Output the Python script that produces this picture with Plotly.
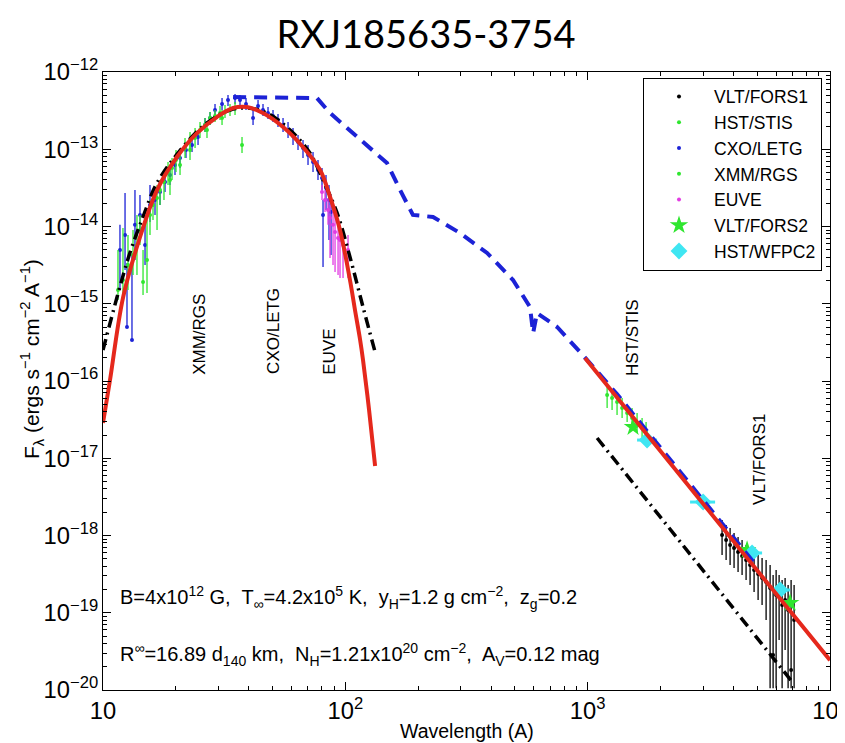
import plotly.graph_objects as go

# ---------------- data (wavelength in Angstrom, flux in erg s^-1 cm^-2 A^-1) ----------------
# XMM/RGS
xmm_wl = [11.53, 12.09, 12.68, 13.30, 13.81, 14.21, 14.63, 15.19, 15.63, 16.08, 16.71, 17.19, 17.85,
          18.55, 19.27, 20.01, 20.79, 21.80, 22.86, 23.98, 25.14, 26.36, 27.65, 28.99, 30.40, 31.87,
          33.43, 35.06, 37.47, 18.90, 22.86, 26.86, 30.99]
xmm_f = [1.51e-15, 2.03e-15, 3.17e-15, 4.28e-15, 5.76e-15, 9.01e-15, 1.91e-15, 3.68e-15, 1.41e-14,
         1.90e-14, 2.34e-14, 2.97e-14, 3.77e-14, 5.08e-14, 5.72e-14, 7.26e-14, 6.25e-14, 1.04e-13,
         1.32e-13, 1.40e-13, 1.77e-13, 2.06e-13, 2.54e-13, 2.69e-13, 2.95e-13, 3.03e-13, 3.22e-13,
         3.42e-13, 1.135e-13, 4.00e-14, 9.78e-14, 1.77e-13, 2.54e-13]
xmm_hi = [4.96e-15, 9.56e-15, 7.76e-15, 9.01e-15, 1.41e-14, 1.41e-14, 4.96e-15, 1.21e-14, 2.20e-14,
          2.97e-14, 3.44e-14, 4.00e-14, 5.08e-14, 6.84e-14, 7.70e-14, 9.78e-14, 8.42e-14, 1.40e-13,
          1.67e-13, 1.88e-13, 2.25e-13, 2.54e-13, 3.03e-13, 3.22e-13, 3.63e-13, 3.74e-13, 3.85e-13,
          4.09e-13, 1.44e-13, 5.39e-14, 1.32e-13, 2.25e-13, 3.22e-13]
xmm_lo = [1.12e-15, 1.12e-15, 1.51e-15, 2.36e-15, 2.36e-15, 5.76e-15, 1.30e-15, 1.38e-15, 7.76e-15,
          1.21e-14, 9.01e-15, 1.90e-14, 2.20e-14, 3.44e-14, 4.00e-14, 5.08e-14, 4.64e-14, 7.70e-14,
          9.78e-14, 1.04e-13, 1.40e-13, 1.67e-13, 2.06e-13, 2.25e-13, 2.39e-13, 2.54e-13, 2.69e-13,
          2.78e-13, 8.94e-14, 2.56e-14, 7.26e-14, 1.40e-13, 2.06e-13]

# CXO/LETG
letg_wl = [11.75, 12.33, 12.56, 13.17, 13.55, 14.21, 14.91, 15.63, 16.39, 17.19, 18.03, 18.90, 19.82,
           20.79, 22.00, 23.30, 24.67, 26.36, 27.65, 28.99, 30.99, 32.80, 35.06, 36.76, 38.92, 41.61,
           43.63, 45.74, 47.97, 50.30, 52.74, 55.33, 58.02, 60.83, 63.79, 66.88, 70.15, 73.56, 77.13,
           80.12, 83.22, 85.63, 80.90, 87.29]
letg_f = [4.96e-15, 7.76e-15, 5.00e-16, 3.39e-16, 1.05e-14, 1.41e-14, 5.76e-15, 1.90e-14, 2.20e-14,
          2.80e-14, 3.77e-14, 4.64e-14, 6.25e-14, 7.70e-14, 9.78e-14, 1.135e-13, 1.44e-13, 2.06e-13,
          2.54e-13, 3.22e-13, 3.85e-13, 4.34e-13, 4.61e-13, 4.34e-13, 3.85e-13, 2.54e-13, 3.63e-13,
          3.22e-13, 2.95e-13, 2.69e-13, 2.39e-13, 2.06e-13, 1.77e-13, 1.48e-13, 1.24e-13, 1.04e-13,
          8.42e-14, 6.84e-14, 5.39e-14, 4.24e-14, 3.15e-14, 2.20e-14, 1.41e-14, 1.54e-14]
letg_hi = [1.05e-14, 2.71e-14, 3.37e-15, 4.28e-15, 2.97e-14, 2.56e-14, 1.41e-14, 3.44e-14, 3.15e-14,
           4.00e-14, 5.08e-14, 6.25e-14, 7.70e-14, 9.78e-14, 1.24e-13, 1.40e-13, 1.77e-13, 2.54e-13,
           3.03e-13, 3.85e-13, 4.61e-13, 5.04e-13, 5.19e-13, 5.04e-13, 4.61e-13, 3.42e-13, 4.34e-13,
           3.85e-13, 3.52e-13, 3.22e-13, 2.86e-13, 2.54e-13, 2.25e-13, 1.88e-13, 1.53e-13, 1.32e-13,
           1.135e-13, 9.22e-14, 7.26e-14, 5.72e-14, 4.64e-14, 3.44e-14, 2.20e-14, 2.56e-14]
letg_lo = [1.51e-15, 2.73e-15, 5.00e-16, 3.39e-16, 3.68e-15, 6.69e-15, 3.17e-15, 1.14e-14, 1.41e-14,
           1.90e-14, 2.80e-14, 3.44e-14, 4.64e-14, 5.72e-14, 7.70e-14, 9.22e-14, 1.135e-13, 1.67e-13,
           2.06e-13, 2.69e-13, 3.22e-13, 3.63e-13, 3.85e-13, 3.63e-13, 3.22e-13, 2.06e-13, 3.03e-13,
           2.69e-13, 2.46e-13, 2.25e-13, 1.94e-13, 1.67e-13, 1.40e-13, 1.135e-13, 9.78e-14, 7.70e-14,
           6.25e-14, 5.08e-14, 4.00e-14, 2.97e-14, 1.64e-14, 6.69e-15, 2.99e-15, 4.28e-15]

# EUVE
euve_wl = [80.12, 82.44, 84.83, 86.46, 88.96, 90.69, 93.31, 95.08, 97.84, 102.6]
euve_f = [2.80e-14, 2.20e-14, 1.64e-14, 1.29e-14, 1.05e-14, 8.49e-15, 7.10e-15, 6.69e-15, 5.76e-15, 4.96e-15]
euve_hi = [3.44e-14, 2.97e-14, 2.34e-14, 1.90e-14, 1.64e-14, 1.41e-14, 1.21e-14, 1.05e-14, 9.01e-15, 7.76e-15]
euve_lo = [2.20e-14, 1.54e-14, 1.05e-14, 3.91e-15, 3.17e-15, 2.58e-15, 2.36e-15, 2.15e-15, 2.15e-15, 2.15e-15]

# HST/STIS
stis_wl = [1203, 1261, 1322, 1387, 1455, 1525, 1599, 1677, 1742]
stis_f = [6.59e-17, 6.02e-17, 5.35e-17, 4.47e-17, 3.85e-17, 3.32e-17, 2.86e-17, 2.46e-17, 2.19e-17]
stis_hi = [8.87e-17, 7.65e-17, 7.21e-17, 6.02e-17, 4.89e-17, 4.47e-17, 3.85e-17, 3.32e-17, 2.95e-17]
stis_lo = [4.47e-17, 4.21e-17, 3.63e-17, 3.32e-17, 2.95e-17, 2.46e-17, 2.19e-17, 1.72e-17, 1.48e-17]

# VLT/FORS1
fors1_wl = [3586, 3726, 3870, 4019, 4175, 4337, 4505, 4679, 4861, 5050, 5245, 5449, 5660, 5824,
            5993, 6166, 6344, 6527, 6716, 6910, 7110]
fors1_f = [1.015e-18, 8.74e-19, 7.53e-19, 6.89e-19, 6.11e-19, 5.43e-19, 4.82e-19, 4.15e-19, 3.58e-19,
           3.17e-19, 2.82e-19, 2.50e-19, 2.09e-19, 2.84e-20, 1.70e-19, 1.86e-19, 1.26e-19, 1.46e-19,
           1.086e-19, 1.82e-20, 8.05e-20]
fors1_hi = [1.59e-18, 1.37e-18, 1.25e-18, 1.08e-18, 9.56e-19, 8.74e-19, 7.53e-19, 6.89e-19, 6.11e-19,
            5.59e-19, 5.11e-19, 4.82e-19, 4.15e-19, 3.08e-19, 3.58e-19, 3.08e-19, 2.65e-19, 2.82e-19,
            2.29e-19, 2.65e-19, 2.29e-19]
fors1_lo = [5.59e-19, 4.82e-19, 4.15e-19, 3.80e-19, 3.37e-19, 3.08e-19, 2.65e-19, 2.29e-19, 1.86e-19,
            1.46e-19, 1.26e-19, 8.05e-20, 1.05e-20, 1.05e-20, 1.05e-20, 4.44e-20, 1.05e-20, 3.29e-20,
            1.05e-20, 1.05e-20, 1.05e-20]

# VLT/FORS2 (photometry)
fors2_wl = [1539, 4548, 6845]
fors2_f = [2.54e-17, 6.49e-19, 1.34e-19]

# HST/WFPC2 (photometry)
wfpc2_wl = [1759, 2995, 4769, 6225]
wfpc2_f = [1.72e-17, 2.71e-18, 5.94e-19, 1.97e-19]
wfpc2_wl_lo = [1599, 2646, 4337, 5768]
wfpc2_wl_hi = [1934, 3356, 5245, 6845]
wfpc2_f_hi = [2.10e-17, 3.30e-18, 7.20e-19, 2.40e-19]
wfpc2_f_lo = [1.41e-17, 2.22e-18, 4.90e-19, 1.62e-19]

# Model curves
bb_x_wl = [10.0, 10.69, 12.11, 14.22, 16.71, 20.18, 24.43, 29.51, 34.43, 39.26, 45.71, 55.34, 66.83,
           78.70, 86.50, 95.06, 104.5, 109.6, 115.1, 118.3, 125.3, 132.7]
bb_x_f = [2.86e-17, 1.03e-16, 1.22e-15, 7.31e-15, 2.96e-14, 7.94e-14, 1.62e-13, 2.61e-13, 3.42e-13,
          3.52e-13, 2.94e-13, 1.94e-13, 1.07e-13, 5.38e-14, 2.41e-14, 9.02e-15, 2.03e-15, 8.30e-16,
          3.40e-16, 1.87e-16, 4.22e-17, 7.94e-18]
bb_opt_wl = [975, 2911, 10000]
bb_opt_f = [1.99e-16, 2.88e-18, 2.43e-20]

dd_x_wl = [10.0, 11.43, 12.91, 14.62, 16.71, 21.38, 26.85, 33.42, 39.26, 47.53, 59.16, 71.45, 80.91,
           92.47, 104.5, 118.3, 132.7]
dd_x_f = [2.52e-16, 1.22e-15, 4.54e-15, 1.33e-14, 3.66e-14, 1.07e-13, 2.19e-13, 3.22e-13, 3.42e-13,
          2.94e-13, 1.77e-13, 8.93e-14, 4.00e-14, 1.50e-14, 4.03e-15, 9.08e-16, 2.37e-16]
dd_opt_wl = [1094, 7047]
dd_opt_f = [1.83e-17, 1.23e-20]

atm_wl = [34.43, 53.70, 76.38, 86.50, 115.1, 148.6, 168.3, 190.1, 230.1, 297.2, 384.6, 492.0, 578.1,
          595.7, 618.0, 748.2, 957.2, 1321, 1811, 2477, 3420, 5000]
atm_f = [4.74e-13, 4.74e-13, 4.60e-13, 2.94e-13, 1.32e-13, 6.64e-14, 2.96e-14, 1.41e-14, 1.33e-14,
         8.24e-15, 4.54e-15, 2.03e-15, 9.08e-16, 4.18e-16, 7.59e-16, 5.00e-16, 2.15e-16, 6.76e-17,
         2.00e-17, 6.03e-18, 1.74e-18, 3.98e-19]

GREEN = "#2fe62f"
BLUE = "#1c22d6"
MAGENTA = "#e23ce2"
CYAN = "#3fe6f2"
RED = "#e5281c"
FONT = "Liberation Sans, Arial, sans-serif"


def errs(f, hi, lo):
    return dict(type="data", symmetric=False,
                array=[h - v for v, h in zip(f, hi)],
                arrayminus=[v - l for v, l in zip(f, lo)],
                width=0, thickness=1.3)


fig = go.Figure()


def data_trace(name, wl, f, hi, lo, color):
    e = errs(f, hi, lo)
    e["color"] = color
    fig.add_trace(go.Scatter(x=wl, y=f, mode="markers", name=name,
                             marker=dict(color=color, size=4, symbol="circle"),
                             error_y=e))


data_trace("VLT/FORS1", fors1_wl, fors1_f, fors1_hi, fors1_lo, "black")
data_trace("HST/STIS", stis_wl, stis_f, stis_hi, stis_lo, GREEN)
data_trace("CXO/LETG", letg_wl, letg_f, letg_hi, letg_lo, BLUE)
data_trace("XMM/RGS", xmm_wl, xmm_f, xmm_hi, xmm_lo, GREEN)
data_trace("EUVE", euve_wl, euve_f, euve_hi, euve_lo, MAGENTA)

fig.add_trace(go.Scatter(x=fors2_wl, y=fors2_f, mode="markers", name="VLT/FORS2",
                         marker=dict(color=GREEN, size=14, symbol="star", line=dict(width=0))))
wy = errs(wfpc2_f, wfpc2_f_hi, wfpc2_f_lo)
wy.update(color=CYAN, thickness=3)
fig.add_trace(go.Scatter(x=wfpc2_wl, y=wfpc2_f, mode="markers", name="HST/WFPC2",
                         marker=dict(color=CYAN, size=13, symbol="diamond", line=dict(width=0)),
                         error_y=wy,
                         error_x=dict(type="data", symmetric=False,
                                      array=[h - v for v, h in zip(wfpc2_wl, wfpc2_wl_hi)],
                                      arrayminus=[v - l for v, l in zip(wfpc2_wl, wfpc2_wl_lo)],
                                      color=CYAN, thickness=3, width=0)))

# model curves (drawn over the data, not in legend)
fig.add_trace(go.Scatter(x=atm_wl, y=atm_f, mode="lines", showlegend=False,
                         line=dict(color=BLUE, width=4, dash="13px,8px")))
fig.add_trace(go.Scatter(x=dd_x_wl, y=dd_x_f, mode="lines", showlegend=False,
                         line=dict(color="black", width=3.5, dash="11px,5px,2px,5px", shape="spline")))
fig.add_trace(go.Scatter(x=dd_opt_wl, y=dd_opt_f, mode="lines", showlegend=False,
                         line=dict(color="black", width=3.5, dash="11px,5px,2px,5px")))
fig.add_trace(go.Scatter(x=bb_x_wl, y=bb_x_f, mode="lines", showlegend=False,
                         line=dict(color=RED, width=4, shape="spline")))
fig.add_trace(go.Scatter(x=bb_opt_wl, y=bb_opt_f, mode="lines", showlegend=False,
                         line=dict(color=RED, width=4, shape="spline")))

# instrument labels
labels = [("XMM/RGS", 1.400, -15.39), ("CXO/LETG", 1.706, -15.35), ("EUVE", 1.937, -15.62),
          ("HST/STIS", 3.187, -15.43), ("VLT/FORS1", 3.7115, -17.02)]
for t, lx, ly in labels:
    fig.add_annotation(x=lx, y=ly, xref="x", yref="y", text=t, textangle=-90, showarrow=False,
                       font=dict(family=FONT, size=17, color="black"))

fig.add_annotation(x=0.021, y=0.150, xref="paper", yref="paper", xanchor="left", yanchor="middle",
                   showarrow=False, font=dict(family=FONT, size=20, color="black"),
                   text="B=4x10<sup>12</sup> G,  T<sub>∞</sub>=4.2x10<sup>5</sup> K,  y<sub>H</sub>=1.2 g cm<sup>−2</sup>,  z<sub>g</sub>=0.2")
fig.add_annotation(x=0.021, y=0.058, xref="paper", yref="paper", xanchor="left", yanchor="middle",
                   showarrow=False, font=dict(family=FONT, size=20, color="black"),
                   text="R<sup>∞</sup>=16.89 d<sub>140</sub> km,  N<sub>H</sub>=1.21x10<sup>20</sup> cm<sup>−2</sup>,  A<sub>V</sub>=0.12 mag")

# axis titles
fig.add_annotation(x=0.5, y=-0.066, xref="paper", yref="paper", xanchor="center", yanchor="middle",
                   showarrow=False, text="Wavelength (A)", font=dict(family=FONT, size=19.5, color="black"))
fig.add_annotation(x=-0.098, y=0.535, xref="paper", yref="paper", xanchor="center", yanchor="middle",
                   showarrow=False, textangle=-90,
                   text="F<sub>λ</sub> (ergs s<sup>−1</sup> cm<sup>−2</sup> A<sup>−1</sup>)",
                   font=dict(family=FONT, size=21, color="black"))

axis_common = dict(type="log", showline=True, linecolor="black", linewidth=1, mirror="ticks",
                   ticks="inside", ticklen=8, tickcolor="black", showgrid=False, zeroline=False,
                   dtick=1, exponentformat="power", automargin=False,
                   tickfont=dict(family=FONT, size=19, color="black"),
                   minor=dict(ticks="inside", ticklen=4, tickcolor="black", showgrid=False))

fig.update_layout(
    width=837, height=735,
    margin=dict(l=95, r=15, t=64, b=53),
    paper_bgcolor="white", plot_bgcolor="white",
    title=dict(text="RXJ185635-3754", x=0.4994, xref="container", xanchor="center", y=0.963,
               yanchor="middle", font=dict(family="Lato, sans-serif", size=38, color="black")),
    xaxis=dict(axis_common, range=[1, 4], ticklabeloverflow="allow"),
    yaxis=dict(axis_common, range=[-20, -12]),
    legend=dict(x=0.989, y=0.991, xanchor="right", yanchor="top", bgcolor="white",
                bordercolor="black", borderwidth=1, font=dict(family=FONT, size=17.5, color="black"),
                itemsizing="trace", itemwidth=60),
    showlegend=True,
)

fig.write_html("out.html")
